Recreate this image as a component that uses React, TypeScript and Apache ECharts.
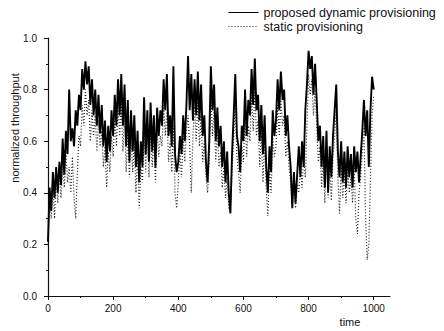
import React, { useEffect, useRef } from "react";
import * as echarts from "echarts";

const timeStep = 5;
const xTicks = [0, 200, 400, 600, 800, 1000];

const dynamicValues = [
  0.21, 0.42, 0.33, 0.48, 0.38, 0.50, 0.40, 0.52, 0.43, 0.61,
  0.47, 0.64, 0.55, 0.80, 0.60, 0.65, 0.58, 0.72, 0.66, 0.78,
  0.72, 0.88, 0.80, 0.91, 0.82, 0.89, 0.74, 0.84, 0.70, 0.80,
  0.66, 0.78, 0.63, 0.74, 0.58, 0.68, 0.52, 0.66, 0.56, 0.72,
  0.62, 0.78, 0.66, 0.84, 0.70, 0.86, 0.66, 0.82, 0.58, 0.76,
  0.52, 0.72, 0.56, 0.70, 0.50, 0.64, 0.44, 0.60, 0.50, 0.77,
  0.55, 0.72, 0.52, 0.75, 0.56, 0.70, 0.50, 0.73, 0.62, 0.72,
  0.66, 0.84, 0.72, 0.86, 0.62, 0.70, 0.58, 0.89, 0.55, 0.48,
  0.52, 0.62, 0.55, 0.70, 0.60, 0.74, 0.93, 0.72, 0.86, 0.68,
  0.84, 0.70, 0.87, 0.68, 0.82, 0.62, 0.70, 0.52, 0.44, 0.60,
  0.89, 0.72, 0.82, 0.60, 0.73, 0.58, 0.66, 0.50, 0.60, 0.44,
  0.56, 0.40, 0.32, 0.55, 0.70, 0.86, 0.62, 0.58, 0.48, 0.66,
  0.60, 0.80, 0.62, 0.76, 0.70, 0.88, 0.74, 0.92, 0.72, 0.78,
  0.60, 0.74, 0.55, 0.70, 0.50, 0.40, 0.58, 0.48, 0.72, 0.62,
  0.68, 0.84, 0.72, 0.87, 0.76, 0.80, 0.62, 0.70, 0.58, 0.50,
  0.34, 0.48, 0.36, 0.47, 0.58, 0.46, 0.60, 0.50, 0.72, 0.82,
  0.95, 0.88, 0.93, 0.78, 0.90, 0.76, 0.60, 0.66, 0.50, 0.62,
  0.42, 0.64, 0.40, 0.58, 0.46, 0.62, 0.72, 0.82, 0.56, 0.46,
  0.60, 0.44, 0.56, 0.42, 0.58, 0.46, 0.55, 0.42, 0.58, 0.48,
  0.56, 0.44, 0.54, 0.64, 0.76, 0.62, 0.72, 0.50, 0.72, 0.85,
  0.80,
];

const staticValues = [
  0.20, 0.38, 0.30, 0.44, 0.30, 0.46, 0.36, 0.48, 0.38, 0.52,
  0.42, 0.56, 0.44, 0.50, 0.40, 0.54, 0.38, 0.30, 0.48, 0.62,
  0.58, 0.74, 0.66, 0.80, 0.70, 0.76, 0.60, 0.72, 0.62, 0.70,
  0.56, 0.68, 0.58, 0.64, 0.50, 0.58, 0.42, 0.56, 0.48, 0.62,
  0.54, 0.70, 0.58, 0.74, 0.62, 0.76, 0.56, 0.70, 0.48, 0.64,
  0.46, 0.62, 0.48, 0.60, 0.40, 0.56, 0.34, 0.50, 0.44, 0.64,
  0.48, 0.64, 0.46, 0.66, 0.50, 0.62, 0.44, 0.64, 0.54, 0.62,
  0.58, 0.74, 0.62, 0.72, 0.52, 0.60, 0.48, 0.66, 0.40, 0.34,
  0.44, 0.56, 0.46, 0.62, 0.52, 0.64, 0.70, 0.58, 0.40, 0.62,
  0.74, 0.60, 0.76, 0.58, 0.70, 0.52, 0.60, 0.46, 0.40, 0.52,
  0.80, 0.62, 0.72, 0.52, 0.64, 0.50, 0.56, 0.42, 0.50, 0.38,
  0.46, 0.34, 0.33, 0.48, 0.62, 0.76, 0.54, 0.48, 0.40, 0.58,
  0.52, 0.70, 0.54, 0.66, 0.60, 0.78, 0.64, 0.80, 0.62, 0.68,
  0.50, 0.64, 0.44, 0.60, 0.42, 0.31, 0.50, 0.40, 0.62, 0.54,
  0.58, 0.74, 0.62, 0.76, 0.66, 0.70, 0.54, 0.60, 0.50, 0.44,
  0.36, 0.42, 0.34, 0.44, 0.40, 0.50, 0.42, 0.54, 0.46, 0.66,
  0.86, 0.78, 0.84, 0.70, 0.80, 0.66, 0.52, 0.58, 0.42, 0.54,
  0.36, 0.56, 0.38, 0.50, 0.37, 0.54, 0.62, 0.72, 0.46, 0.32,
  0.50, 0.38, 0.48, 0.36, 0.50, 0.40, 0.46, 0.36, 0.50, 0.30,
  0.24, 0.40, 0.46, 0.56, 0.66, 0.30, 0.14, 0.20, 0.45, 0.70,
  0.78,
];

const seriesNames = ["proposed dynamic provisioning", "static provisioning"];

const FONT = "Liberation Sans, Arial, sans-serif";

export default function App() {
  const ref = useRef<HTMLDivElement>(null);
  useEffect(() => {
    if (!ref.current) return;
    const chart = echarts.init(ref.current, undefined, { renderer: "svg" });
    const toPairs = (vals: number[]) => vals.map((v, i) => [i * timeStep, v]);
    chart.setOption({
      animation: false,
      backgroundColor: "#fff",
      grid: { left: 48, right: 54, top: 38, bottom: 35, containLabel: false },
      legend: {
        orient: "vertical",
        left: 228,
        top: 6,
        padding: 0,
        itemWidth: 30,
        itemHeight: 10,
        itemGap: 1,
        itemStyle: { opacity: 0 },
        lineStyle: { width: 1 },
        textStyle: { fontFamily: FONT, fontSize: 12.5, lineHeight: 13, color: "#111" },
        data: seriesNames,
      },
      xAxis: {
        type: "value",
        min: 0,
        max: 1050,
        interval: 200,
        axisLine: { lineStyle: { color: "#111", width: 1.2 } },
        axisTick: { show: true, length: 4, lineStyle: { color: "#111" }, customValues: xTicks },
        minorTick: { show: true, splitNumber: 2, length: 2, lineStyle: { color: "#111" } },
        axisLabel: {
          fontFamily: FONT,
          fontSize: 10,
          color: "#111",
          margin: 7,
          customValues: xTicks,
          formatter: (v: number) => String(v),
        },
        splitLine: { show: false },
      },
      yAxis: {
        type: "value",
        min: 0,
        max: 1,
        interval: 0.2,
        axisLine: { show: true, lineStyle: { color: "#111", width: 1.2 } },
        axisTick: { show: true, length: 4, lineStyle: { color: "#111" } },
        minorTick: { show: true, splitNumber: 2, length: 2, lineStyle: { color: "#111" } },
        axisLabel: {
          fontFamily: FONT,
          fontSize: 10,
          color: "#111",
          margin: 11,
          formatter: (v: number) => v.toFixed(1),
        },
        splitLine: { show: false },
      },
      graphic: [
        {
          type: "text",
          x: 15,
          y: 128,
          rotation: Math.PI / 2,
          style: {
            text: "normalized throughput",
            fontFamily: FONT,
            fontSize: 11,
            fill: "#111",
            align: "center",
            verticalAlign: "middle",
          },
        },
        {
          type: "text",
          x: 350,
          y: 322,
          style: {
            text: "time",
            fontFamily: FONT,
            fontSize: 11,
            fill: "#111",
            align: "center",
            verticalAlign: "middle",
          },
        },
      ],
      series: [
        {
          name: seriesNames[1],
          type: "line",
          data: toPairs(staticValues),
          symbol: "none",
          lineStyle: { color: "#222", width: 1.2, type: [1, 2] },
          itemStyle: { color: "#222" },
          z: 2,
        },
        {
          name: seriesNames[0],
          type: "line",
          data: toPairs(dynamicValues),
          symbol: "none",
          lineStyle: { color: "#000", width: 1.9 },
          itemStyle: { color: "#000" },
          z: 3,
        },
      ],
    });
    return () => chart.dispose();
  }, []);
  return <div ref={ref} style={{ width: 444, height: 331, position: "absolute", left: 0, top: 0 }} />;
}
